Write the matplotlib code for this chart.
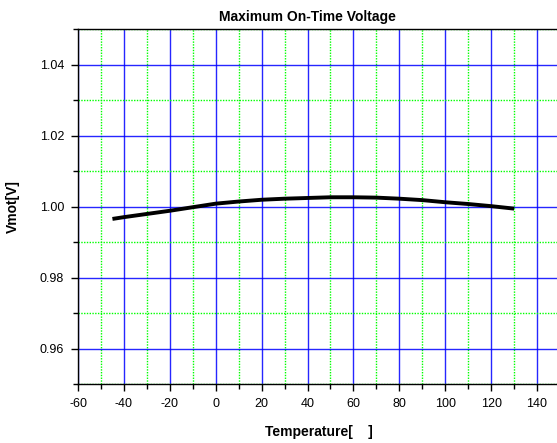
import numpy as np
import matplotlib
matplotlib.use('Agg')
from matplotlib import pyplot as plt
from matplotlib.ticker import MultipleLocator, FormatStrFormatter

# data
temperature = [-45, -40, -30, -20, -10, 0, 10, 20, 30, 40, 50, 60, 70, 80, 90, 100, 110, 120, 130]
vmot = [0.9965, 0.9970, 0.9979, 0.9988, 0.9998, 1.0008, 1.0014, 1.0019, 1.0022, 1.0024,
        1.0026, 1.0026, 1.0025, 1.0022, 1.0018, 1.0012, 1.0007, 1.0001, 0.9994]

plt.rcParams['font.family'] = ['Liberation Sans', 'DejaVu Sans']
plt.rcParams['axes.unicode_minus'] = False

fig = plt.figure(figsize=(5.57, 4.43), dpi=100)
ax = fig.add_axes([78 / 557, 59 / 443, 482 / 557, 355 / 443])

ax.set_xlim(-60, 150)
ax.set_ylim(0.95, 1.05)
ax.xaxis.set_major_locator(MultipleLocator(20))
ax.xaxis.set_minor_locator(MultipleLocator(10))
ax.yaxis.set_major_locator(MultipleLocator(0.02))
ax.yaxis.set_minor_locator(MultipleLocator(0.01))
ax.set_xticks(np.arange(-60, 141, 20))
ax.yaxis.set_major_formatter(FormatStrFormatter('%.2f'))

# grid: blue major, green dotted minor
ax.grid(which='major', color='#0000ff', linewidth=1.0, alpha=0.85)
ax.grid(which='minor', color='#00ff00', linewidth=1.0, linestyle=(0, (1, 1)))
ax.set_axisbelow(True)

ax.plot(temperature, vmot, color='black', linewidth=2.8, solid_capstyle='butt', zorder=3)

ax.tick_params(which='major', direction='out', length=5, width=1, labelsize=9,
               pad=5, top=False, right=False)
ax.tick_params(which='minor', direction='out', length=3.5, width=1,
               top=False, right=False)
for side in ['left', 'bottom', 'top']:
    ax.spines[side].set_linewidth(1.0)
ax.spines['right'].set_visible(False)

ax.set_xlabel('Temperature[    ]', fontsize=10, fontweight='bold', labelpad=11)
ax.set_ylabel('Vmot[V]', fontsize=10, fontweight='bold', labelpad=14)
fig.text(307 / 557, 1 - 17 / 443, 'Maximum On-Time Voltage', fontsize=10,
         fontweight='bold', ha='center', va='center')

fig.savefig('out.png', dpi=100)
